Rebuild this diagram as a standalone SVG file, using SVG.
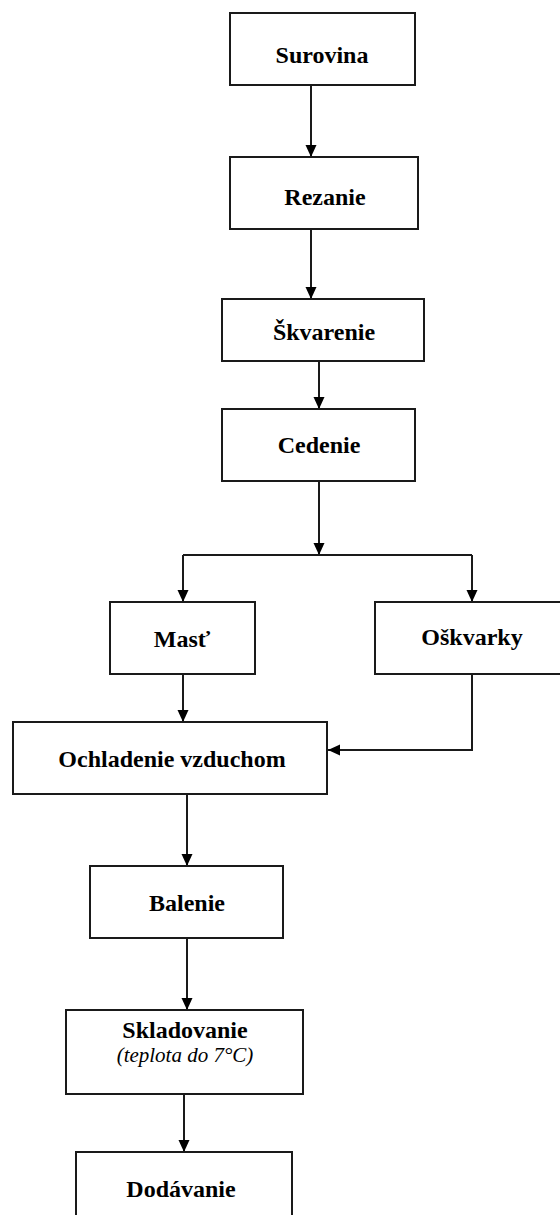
<svg xmlns="http://www.w3.org/2000/svg" width="560" height="1215" viewBox="0 0 560 1215">
  <style>
    .box { fill: #ffffff; stroke: #1a1a1a; stroke-width: 2; }
    .lbl { font-family: "Liberation Serif", "Times New Roman", serif; font-weight: bold; font-size: 24px; fill: #000; text-anchor: middle; }
    .sub { font-family: "Liberation Serif", "Times New Roman", serif; font-style: italic; font-size: 21px; fill: #000; text-anchor: middle; }
    .wire { fill: none; stroke: #1a1a1a; stroke-width: 2; }
  </style>
  <defs>
    <marker id="arrow" markerUnits="userSpaceOnUse" markerWidth="12" markerHeight="12" refX="12" refY="6" orient="auto">
      <path d="M0,0.5 L12,6 L0,11.5 z" fill="#000"/>
    </marker>
  </defs>
  <rect width="560" height="1215" fill="#ffffff"/>

  <g id="connectors">
    <path class="wire" d="M311,85 V157" marker-end="url(#arrow)"/>
    <path class="wire" d="M311,229 V299" marker-end="url(#arrow)"/>
    <path class="wire" d="M319,361 V409" marker-end="url(#arrow)"/>
    <path class="wire" d="M319,481 V555" marker-end="url(#arrow)"/>
    <path class="wire" d="M183,555 H472"/>
    <path class="wire" d="M183,555 V602" marker-end="url(#arrow)"/>
    <path class="wire" d="M472,555 V602" marker-end="url(#arrow)"/>
    <path class="wire" d="M183,674 V722" marker-end="url(#arrow)"/>
    <path class="wire" d="M472,674 V750 H328" marker-end="url(#arrow)"/>
    <path class="wire" d="M187,794 V866" marker-end="url(#arrow)"/>
    <path class="wire" d="M187,938 V1010" marker-end="url(#arrow)"/>
    <path class="wire" d="M184,1094 V1152" marker-end="url(#arrow)"/>
  </g>

  <g id="surovina">
    <rect class="box" x="230" y="13" width="185" height="72"/>
    <text class="lbl" x="322" y="63">Surovina</text>
  </g>
  <g id="rezanie">
    <rect class="box" x="230" y="157" width="188" height="72"/>
    <text class="lbl" x="325" y="205">Rezanie</text>
  </g>
  <g id="skvarenie">
    <rect class="box" x="222" y="299" width="202" height="62"/>
    <text class="lbl" x="324" y="340">Škvarenie</text>
  </g>
  <g id="cedenie">
    <rect class="box" x="222" y="409" width="193" height="72"/>
    <text class="lbl" x="319" y="453">Cedenie</text>
  </g>
  <g id="mast">
    <rect class="box" x="110" y="602" width="145" height="72"/>
    <text class="lbl" x="182" y="647">Masť</text>
  </g>
  <g id="oskvarky">
    <rect class="box" x="375" y="602" width="195" height="72"/>
    <text class="lbl" x="472" y="645">Oškvarky</text>
  </g>
  <g id="ochladenie">
    <rect class="box" x="13" y="722" width="314" height="72"/>
    <text class="lbl" x="172" y="767">Ochladenie vzduchom</text>
  </g>
  <g id="balenie">
    <rect class="box" x="90" y="866" width="193" height="72"/>
    <text class="lbl" x="187" y="911">Balenie</text>
  </g>
  <g id="skladovanie">
    <rect class="box" x="66" y="1010" width="237" height="84"/>
    <text class="lbl" x="185" y="1038">Skladovanie</text>
    <text class="sub" x="185" y="1062">(teplota do 7°C)</text>
  </g>
  <g id="dodavanie">
    <rect class="box" x="76" y="1152" width="216" height="72"/>
    <text class="lbl" x="181" y="1197">Dodávanie</text>
  </g>
</svg>
